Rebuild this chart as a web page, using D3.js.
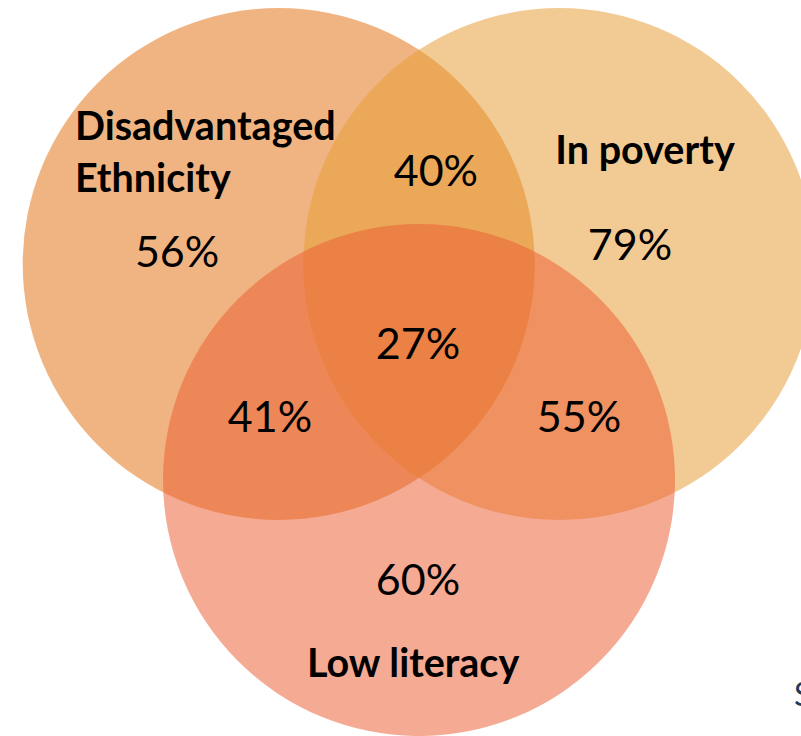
<!DOCTYPE html>
<html>
<head>
<meta charset="utf-8">
<script src="https://cdn.jsdelivr.net/npm/d3@7/dist/d3.min.js"></script>
<style>
  html, body { margin: 0; padding: 0; background: #ffffff; }
  svg { display: block; }
</style>
</head>
<body>
<svg id="chart" width="801" height="736"></svg>
<script>
// Three groups and their fill colours (drawn semi-transparent so overlaps darken)
const setNames  = ["Disadvantaged Ethnicity", "In poverty", "Low literacy"];
const setColors = ["#e37213", "#e69d35", "#ec5f33"];

// Percentage shown in each region of the diagram
const regionKeys   = ["A", "AB", "B", "ABC", "AC", "BC", "C"];
const regionValues = [56, 40, 79, 27, 41, 55, 60];

// Venn layout in abstract units (circle radius = 1)
const centers = [[-0.548, -0.422], [0.548, -0.422], [0, 0.422]];
const labelPos = {
  A: [-0.945, -0.410], AB: [0.066, -0.727], B: [0.824, -0.437],
  ABC: [-0.004, -0.051], AC: [-0.582, 0.234], BC: [0.625, 0.234], C: [-0.004, 0.871]
};
const nameLines = [["Disadvantaged", "Ethnicity"], ["In poverty"], ["Low literacy"]];
const namePos = [[-1.344, -0.906], [0.883, -0.8125], [-0.023, 1.191]];
const nameAnchor = ["start", "middle", "middle"];

const svg = d3.select("#chart");
const R = 256;
const x = d3.scaleLinear().domain([-1, 1]).range([419 - R, 419 + R]);
const y = d3.scaleLinear().domain([-1, 1]).range([372 - R, 372 + R]);

svg.selectAll("circle.set")
  .data(centers)
  .join("circle")
  .attr("class", "set")
  .attr("cx", d => x(d[0]))
  .attr("cy", d => y(d[1]))
  .attr("r", x(1) - x(0))
  .attr("fill", (d, i) => setColors[i])
  .attr("fill-opacity", 0.53);

// Region percentages
svg.selectAll("text.value")
  .data(regionKeys)
  .join("text")
  .attr("class", "value")
  .attr("x", k => x(labelPos[k][0]))
  .attr("y", k => y(labelPos[k][1]))
  .attr("text-anchor", "middle")
  .attr("font-family", "Lato, 'Open Sans', sans-serif")
  .attr("font-size", 43)
  .attr("fill", "#000")
  .text((k, i) => regionValues[i] + "%");

// Group names
setNames.forEach((name, i) => {
  const t = svg.append("text")
    .attr("x", x(namePos[i][0]))
    .attr("y", y(namePos[i][1]))
    .attr("text-anchor", nameAnchor[i])
    .attr("font-family", "Lato, 'Open Sans', sans-serif")
    .attr("font-weight", "bold")
    .attr("font-size", 39.5)
    .attr("fill", "#000");
  nameLines[i].forEach((line, j) => {
    t.append("tspan")
      .attr("x", x(namePos[i][0]))
      .attr("dy", j === 0 ? 0 : 52)
      .text(line);
  });
});

// Start of the source note at the right edge
svg.append("text")
  .attr("x", 794)
  .attr("y", 706)
  .attr("font-family", "Lato, 'Open Sans', sans-serif")
  .attr("font-size", 32)
  .attr("fill", "#1f3a5a")
  .text("S");
</script>
</body>
</html>
